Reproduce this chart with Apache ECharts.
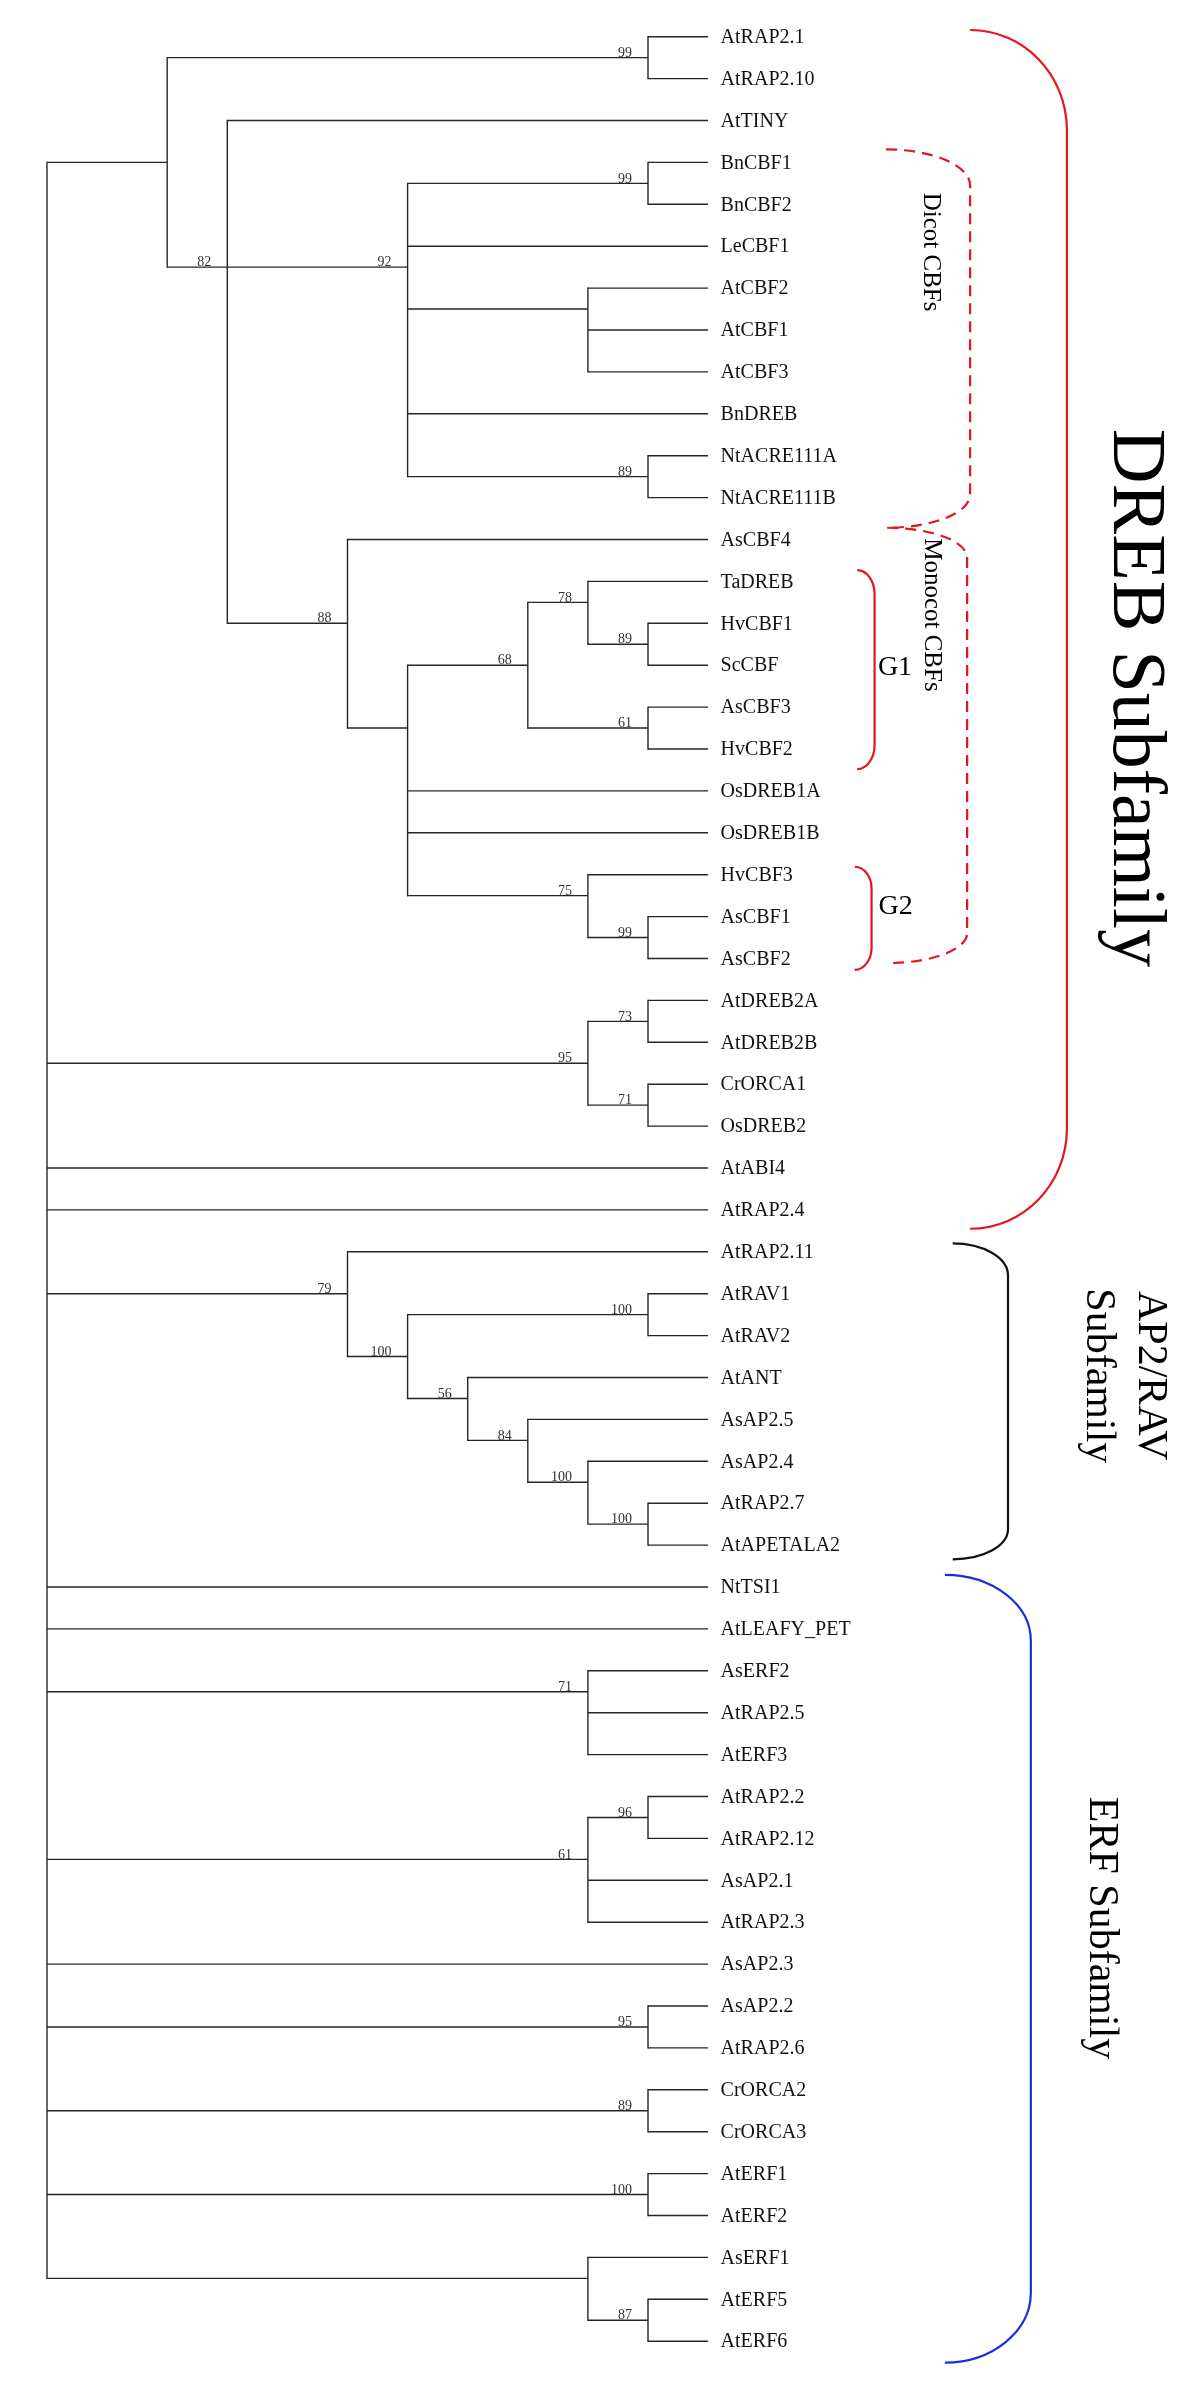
<!DOCTYPE html>
<html>
<head>
<meta charset="utf-8">
<script src="https://cdn.jsdelivr.net/npm/echarts@6/dist/echarts.min.js"></script>
<style>
html,body{margin:0;padding:0;background:#fff;}
#chart{width:1200px;height:2400px;}
</style>
</head>
<body>
<div id="chart"></div>
<script>
// ---------- DATA ----------
const leafNames = ["AtRAP2.1","AtRAP2.10","AtTINY","BnCBF1","BnCBF2","LeCBF1","AtCBF2","AtCBF1","AtCBF3","BnDREB","NtACRE111A","NtACRE111B","AsCBF4","TaDREB","HvCBF1","ScCBF","AsCBF3","HvCBF2","OsDREB1A","OsDREB1B","HvCBF3","AsCBF1","AsCBF2","AtDREB2A","AtDREB2B","CrORCA1","OsDREB2","AtABI4","AtRAP2.4","AtRAP2.11","AtRAV1","AtRAV2","AtANT","AsAP2.5","AsAP2.4","AtRAP2.7","AtAPETALA2","NtTSI1","AtLEAFY_PET","AsERF2","AtRAP2.5","AtERF3","AtRAP2.2","AtRAP2.12","AsAP2.1","AtRAP2.3","AsAP2.3","AsAP2.2","AtRAP2.6","CrORCA2","CrORCA3","AtERF1","AtERF2","AsERF1","AtERF5","AtERF6"];
const leafDepth = 11;

const nodeIds      = ["root","A","n99a","n82","n92","n99b","nAtCBF","n89a","n88","nMono","n68","n78","n89b","n61","n75","n99c","n95","n73","n71","n79","n100a","n100b","n56","n84","n100c","n100d","n71e","n61e","n96","n95e","n89e","n100e","nERF5","n87"];
const nodeDepth    = [0,2,10,3,6,10,9,10,5,6,8,9,10,10,9,10,9,10,10,5,6,10,7,8,9,10,9,9,10,10,10,10,9,10];
const nodeRow      = [28,3.0,0.5,5.5,5.5,3.5,6.5,10.5,14.0,16.5,15.0,13.5,14.5,16.5,20.5,21.5,24.5,23.5,25.5,30.0,31.5,30.5,32.5,33.5,34.5,35.5,39.5,43.5,42.5,47.5,49.5,51.5,53.5,54.5];
const nodeSupport  = ["","","99","82","92","99","","89","88","","68","78","89","61","75","99","95","73","71","79","100","100","56","84","100","100","71","61","96","95","89","100","","87"];
const nodeChildren = [
  ["A","n95","AtABI4","AtRAP2.4","n79","NtTSI1","AtLEAFY_PET","n71e","n61e","AsAP2.3","n95e","n89e","n100e","nERF5"],
  ["n99a","n82"],
  ["AtRAP2.1","AtRAP2.10"],
  ["AtTINY","n92","n88"],
  ["n99b","LeCBF1","nAtCBF","BnDREB","n89a"],
  ["BnCBF1","BnCBF2"],
  ["AtCBF2","AtCBF1","AtCBF3"],
  ["NtACRE111A","NtACRE111B"],
  ["AsCBF4","nMono"],
  ["n68","OsDREB1A","OsDREB1B","n75"],
  ["n78","n61"],
  ["TaDREB","n89b"],
  ["HvCBF1","ScCBF"],
  ["AsCBF3","HvCBF2"],
  ["HvCBF3","n99c"],
  ["AsCBF1","AsCBF2"],
  ["n73","n71"],
  ["AtDREB2A","AtDREB2B"],
  ["CrORCA1","OsDREB2"],
  ["AtRAP2.11","n100a"],
  ["n100b","n56"],
  ["AtRAV1","AtRAV2"],
  ["AtANT","n84"],
  ["AsAP2.5","n100c"],
  ["AsAP2.4","n100d"],
  ["AtRAP2.7","AtAPETALA2"],
  ["AsERF2","AtRAP2.5","AtERF3"],
  ["n96","AsAP2.1","AtRAP2.3"],
  ["AtRAP2.2","AtRAP2.12"],
  ["AsAP2.2","AtRAP2.6"],
  ["CrORCA2","CrORCA3"],
  ["AtERF1","AtERF2"],
  ["AsERF1","n87"],
  ["AtERF5","AtERF6"]
];

// Group brackets (rows / depths in axis units)
const bracketNames      = ["DREB","Dicot","Monocot","G1","G2","AP2RAV","ERF"];
const bracketTopRow     = [-0.16, 2.69, 11.72, 12.73, 19.81, 28.80, 36.71];
const bracketBottomRow  = [28.45, 11.72, 22.11, 17.48, 22.27, 36.34, 55.51];
const bracketTipDepth   = [15.36, 13.96, 13.98, 13.48, 13.44, 15.07, 14.94];
const bracketSpineDepth = [16.97, 15.36, 15.31, 13.77, 13.72, 15.99, 16.37];

const groupTexts      = ["DREB Subfamily","Dicot CBFs","Monocot CBFs","G1","G2","AP2/RAV\nSubfamily","ERF Subfamily"];
const groupTextDepth  = [18.09, 14.70, 14.72, 14.11, 14.12, 17.92, 17.54];
const groupTextRow    = [15.78, 5.14, 13.80, 15.07, 20.76, 31.96, 45.14];

// ---------- STYLE ----------
const SERIF = '"Liberation Serif","DejaVu Serif",serif';
const bracketStyle = {
  DREB:   {color:'#e3161c', dash:null,   rTop:[97,100], rBot:[97,100], w:2.2},
  Dicot:  {color:'#e3161c', dash:[11,7], rTop:[84,36],  rBot:[84,33],  w:2.2},
  Monocot:{color:'#e3161c', dash:[11,7], rTop:[81,30],  rBot:[75,30],  w:2.2},
  G1:     {color:'#e3161c', dash:null,   rTop:[17,24],  rBot:[17,24],  w:2.2},
  G2:     {color:'#e3161c', dash:null,   rTop:[16,22],  rBot:[16,22],  w:2.2},
  AP2RAV: {color:'#111111', dash:null,   rTop:[55,32],  rBot:[55,30],  w:2.2},
  ERF:    {color:'#1a2fd8', dash:null,   rTop:[86,66],  rBot:[86,70],  w:2.2}
};
const groupTextStyle = [
  {size:76, rot:true},
  {size:25, rot:true},
  {size:25, rot:true},
  {size:28, rot:false},
  {size:28, rot:false},
  {size:42, rot:true, lh:52},
  {size:42, rot:true}
];

// ---------- helpers ----------
const nodeIndex = {};
nodeIds.forEach((id,i)=>nodeIndex[id]=i);
const leafIndex = {};
leafNames.forEach((n,i)=>leafIndex[n]=i);
function rowOf(k){ return (k in nodeIndex) ? nodeRow[nodeIndex[k]] : leafIndex[k]; }
function depthOf(k){ return (k in nodeIndex) ? nodeDepth[nodeIndex[k]] : leafDepth; }

const LINE = {stroke:'#262626', lineWidth:1.4};

function renderNode(params, api){
  const i = params.dataIndex;
  const d = nodeDepth[i];
  const kids = nodeChildren[i];
  const rows = kids.map(rowOf);
  const depths = kids.map(depthOf);
  const out = [];
  const top = api.coord([d, Math.min.apply(null, rows)]);
  const bot = api.coord([d, Math.max.apply(null, rows)]);
  out.push({type:'line', shape:{x1:top[0],y1:top[1]-0.7,x2:bot[0],y2:bot[1]+0.7}, style:LINE});
  kids.forEach((k,j)=>{
    const a = api.coord([d, rows[j]]);
    const b = api.coord([depths[j], rows[j]]);
    out.push({type:'line', shape:{x1:a[0],y1:a[1],x2:b[0],y2:b[1]}, style:LINE});
  });
  if (nodeSupport[i]) {
    const p = api.coord([d, nodeRow[i]]);
    out.push({type:'text', x:p[0]-16, y:p[1]+2.5,
      style:{text:nodeSupport[i], fill:'#333', font:'14px '+SERIF, align:'right', verticalAlign:'bottom'}});
  }
  return {type:'group', children:out};
}

function renderLeaf(params, api){
  const i = params.dataIndex;
  const p = api.coord([leafDepth, i]);
  return {type:'text', x:p[0]+12.5, y:p[1]+1,
    style:{text:leafNames[i], fill:'#111', font:'20px '+SERIF, align:'left', verticalAlign:'middle'}};
}

function renderBracket(params, api){
  const i = params.dataIndex;
  const st = bracketStyle[bracketNames[i]];
  const k = 0.5523;
  const tTop = api.coord([bracketTipDepth[i], bracketTopRow[i]]);
  const tBot = api.coord([bracketTipDepth[i], bracketBottomRow[i]]);
  const vx = api.coord([bracketSpineDepth[i], 0])[0];
  const rxT = vx - tTop[0], ryT = st.rTop[1];
  const rxB = vx - tBot[0], ryB = st.rBot[1];
  const y0 = tTop[1], y1 = tBot[1];
  const d = [
    'M', tTop[0], y0,
    'C', tTop[0] + k*rxT, y0, vx, y0 + ryT - k*ryT, vx, y0 + ryT,
    'L', vx, y1 - ryB,
    'C', vx, y1 - ryB + k*ryB, tBot[0] + k*rxB, y1, tBot[0], y1
  ].join(' ');
  return {type:'path', shape:{pathData:d},
    style:{stroke:st.color, fill:null, lineWidth:st.w, lineDash:st.dash || null, lineCap:'butt'}};
}

function renderGroupText(params, api){
  const i = params.dataIndex;
  const s = groupTextStyle[i];
  const p = api.coord([groupTextDepth[i], groupTextRow[i]]);
  return {type:'text', x:p[0], y:p[1], rotation: s.rot ? -Math.PI/2 : 0,
    style:{text:groupTexts[i], fill:'#000', font:s.size+'px '+SERIF, align:'center', verticalAlign:'middle',
      lineHeight: s.lh || s.size*1.2}};
}

const chart = echarts.init(document.getElementById('chart'), null, {renderer:'canvas'});
chart.setOption({
  backgroundColor:'#ffffff',
  animation:false,
  grid:{left:47, right:11.1, top:3.18, bottom:8.52},
  xAxis:{type:'value', min:0, max:19, show:false},
  yAxis:{type:'value', min:-0.8, max:56.2, inverse:true, show:false},
  series:[
    {type:'custom', name:'tree', clip:false, silent:true,
      data: nodeIds.map((id,i)=>[nodeDepth[i], nodeRow[i]]), renderItem:renderNode},
    {type:'custom', name:'leaves', clip:false, silent:true,
      data: leafNames.map((n,i)=>[leafDepth, i]), renderItem:renderLeaf},
    {type:'custom', name:'brackets', clip:false, silent:true,
      data: bracketNames.map((n,i)=>[bracketSpineDepth[i], bracketTopRow[i]]), renderItem:renderBracket},
    {type:'custom', name:'groups', clip:false, silent:true,
      data: groupTexts.map((n,i)=>[groupTextDepth[i], groupTextRow[i]]), renderItem:renderGroupText}
  ]
});
</script>
</body>
</html>
